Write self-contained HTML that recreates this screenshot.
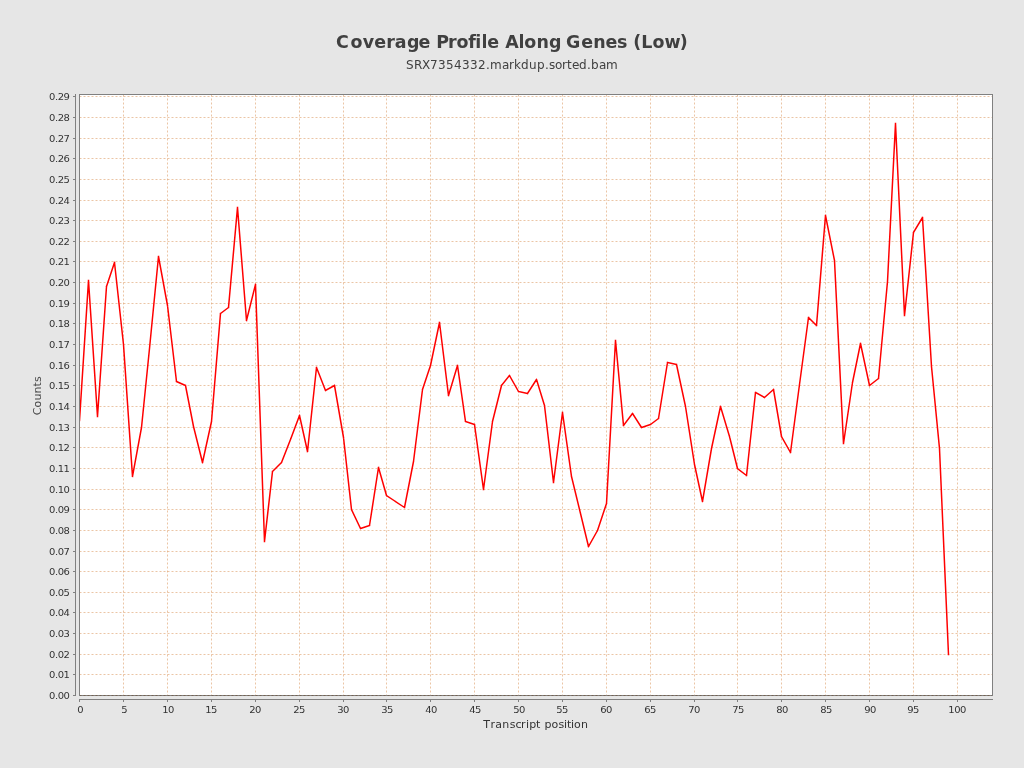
<!DOCTYPE html>
<html lang="en"><head><meta charset="utf-8"><title>Coverage Profile Along Genes (Low)</title>
<style>html,body{margin:0;padding:0;background:#e6e6e6;overflow:hidden}svg{display:block}text{font-family:"DejaVu Sans","Liberation Sans",sans-serif}.tk{font-size:10px;fill:#333}.al{font-size:11px;fill:#333}.t1{font-size:18px;font-weight:bold;fill:#404040}.t2{font-size:12px;fill:#404040}</style></head><body>
<svg width="1024" height="768" viewBox="0 0 1024 768">
<rect x="0" y="0" width="1024" height="768" fill="#e6e6e6"/>
<text class="t1" transform="scale(0.97 1)" x="346.44 361.36 373.96 385.85 398.29 407.09 419.49 431.52 444.45 449.66 461.8 470.64 482.61 489.84 496.34 502.24 515.74 520.9 534.63 540.54 553.04 565.88 578.37 583.55 599.15 611.64 624.3 636.01 647.68 652.88 661.11 672.6 685.15 700.82" y="48">Coverage Profile Along Genes (Low)</text>
<text class="t2" x="406 414 422 430 438 446 454 462 470 478 486 490 502 509 514 521 529 537 545 549 555 562 567 572 579 587 591 599 606" y="69">SRX7354332.markdup.sorted.bam</text>
<rect x="79" y="94" width="914" height="602" fill="#fff"/>
<path d="M123.5 94.5V695.5M167.5 94.5V695.5M211.5 94.5V695.5M255.5 94.5V695.5M299.5 94.5V695.5M343.5 94.5V695.5M386.5 94.5V695.5M430.5 94.5V695.5M474.5 94.5V695.5M518.5 94.5V695.5M562.5 94.5V695.5M606.5 94.5V695.5M650.5 94.5V695.5M694.5 94.5V695.5M737.5 94.5V695.5M781.5 94.5V695.5M825.5 94.5V695.5M869.5 94.5V695.5M913.5 94.5V695.5M957.5 94.5V695.5" fill="none" stroke="#d68b4a" stroke-width="0.5" stroke-dasharray="2 2"/>
<path d="M79.5 674.5H992.5M79.5 654.5H992.5M79.5 633.5H992.5M79.5 612.5H992.5M79.5 592.5H992.5M79.5 571.5H992.5M79.5 551.5H992.5M79.5 530.5H992.5M79.5 509.5H992.5M79.5 489.5H992.5M79.5 468.5H992.5M79.5 447.5H992.5M79.5 427.5H992.5M79.5 406.5H992.5M79.5 385.5H992.5M79.5 365.5H992.5M79.5 344.5H992.5M79.5 323.5H992.5M79.5 303.5H992.5M79.5 282.5H992.5M79.5 261.5H992.5M79.5 241.5H992.5M79.5 220.5H992.5M79.5 200.5H992.5M79.5 179.5H992.5M79.5 158.5H992.5M79.5 138.5H992.5M79.5 117.5H992.5M79.5 96.5H992.5" fill="none" stroke="#d68b4a" stroke-width="0.5" stroke-dasharray="2 2"/>
<clipPath id="c"><rect x="79.5" y="94.5" width="913" height="601"/></clipPath>
<path clip-path="url(#c)" d="M79.5 420.5L88.5 280.5M88.5 280.5L97.5 416.5M97.5 416.5L106.5 286.5M106.5 286.5L114.5 262.5M114.5 262.5L123.5 344.5M123.5 344.5L132.5 476.5M132.5 476.5L141.5 427.5M141.5 427.5L149.5 348.5M149.5 348.5L158.5 256.5M158.5 256.5L167.5 305.5M167.5 305.5L176.5 381.5M176.5 381.5L185.5 385.5M185.5 385.5L193.5 426.5M193.5 426.5L202.5 462.5M202.5 462.5L211.5 421.5M211.5 421.5L220.5 313.5M220.5 313.5L228.5 307.5M228.5 307.5L237.5 207.5M237.5 207.5L246.5 320.5M246.5 320.5L255.5 284.5M255.5 284.5L264.5 541.5M264.5 541.5L272.5 471.5M272.5 471.5L281.5 462.5M281.5 462.5L290.5 439.5M290.5 439.5L299.5 415.5M299.5 415.5L307.5 451.5M307.5 451.5L316.5 367.5M316.5 367.5L325.5 390.5M325.5 390.5L334.5 385.5M334.5 385.5L343.5 437.5M343.5 437.5L351.5 509.5M351.5 509.5L360.5 528.5M360.5 528.5L369.5 525.5M369.5 525.5L378.5 467.5M378.5 467.5L386.5 495.5M386.5 495.5L395.5 501.5M395.5 501.5L404.5 507.5M404.5 507.5L413.5 461.5M413.5 461.5L422.5 389.5M422.5 389.5L430.5 365.5M430.5 365.5L439.5 322.5M439.5 322.5L448.5 395.5M448.5 395.5L457.5 365.5M457.5 365.5L465.5 421.5M465.5 421.5L474.5 424.5M474.5 424.5L483.5 489.5M483.5 489.5L492.5 421.5M492.5 421.5L501.5 385.5M501.5 385.5L509.5 375.5M509.5 375.5L518.5 391.5M518.5 391.5L527.5 393.5M527.5 393.5L536.5 379.5M536.5 379.5L544.5 405.5M544.5 405.5L553.5 482.5M553.5 482.5L562.5 412.5M562.5 412.5L571.5 476.5M571.5 476.5L580.5 513.5M580.5 513.5L588.5 546.5M588.5 546.5L597.5 530.5M597.5 530.5L606.5 503.5M606.5 503.5L615.5 340.5M615.5 340.5L623.5 425.5M623.5 425.5L632.5 413.5M632.5 413.5L641.5 427.5M641.5 427.5L650.5 424.5M650.5 424.5L658.5 418.5M658.5 418.5L667.5 362.5M667.5 362.5L676.5 364.5M676.5 364.5L685.5 406.5M685.5 406.5L694.5 464.5M694.5 464.5L702.5 501.5M702.5 501.5L711.5 448.5M711.5 448.5L720.5 406.5M720.5 406.5L729.5 436.5M729.5 436.5L737.5 468.5M737.5 468.5L746.5 475.5M746.5 475.5L755.5 392.5M755.5 392.5L764.5 397.5M764.5 397.5L773.5 389.5M773.5 389.5L781.5 436.5M781.5 436.5L790.5 452.5M790.5 452.5L799.5 384.5M799.5 384.5L808.5 317.5M808.5 317.5L816.5 325.5M816.5 325.5L825.5 215.5M825.5 215.5L834.5 260.5M834.5 260.5L843.5 443.5M843.5 443.5L852.5 382.5M852.5 382.5L860.5 343.5M860.5 343.5L869.5 385.5M869.5 385.5L878.5 378.5M878.5 378.5L887.5 281.5M887.5 281.5L895.5 123.5M895.5 123.5L904.5 315.5M904.5 315.5L913.5 232.5M913.5 232.5L922.5 217.5M922.5 217.5L931.5 366.5M931.5 366.5L939.5 448.5M939.5 448.5L948.5 654.5" fill="none" stroke="#ff0000" stroke-width="1.5" stroke-linejoin="miter" stroke-miterlimit="10" stroke-linecap="square"/>
<rect x="79.5" y="94.5" width="913" height="601" fill="none" stroke="#808080" stroke-width="1"/>
<path d="M79.5 695.5H992" fill="none" stroke="#756252" stroke-width="1" stroke-opacity="1" stroke-dasharray="2 2"/>
<path d="M79.5 95V696" fill="none" stroke="#808080" stroke-width="1"/>
<path d="M75.5 94V696M79 699.5H993" fill="none" stroke="#808080" stroke-width="1"/>
<path d="M73 695.5H75M73 674.5H75M73 654.5H75M73 633.5H75M73 612.5H75M73 592.5H75M73 571.5H75M73 551.5H75M73 530.5H75M73 509.5H75M73 489.5H75M73 468.5H75M73 447.5H75M73 427.5H75M73 406.5H75M73 385.5H75M73 365.5H75M73 344.5H75M73 323.5H75M73 303.5H75M73 282.5H75M73 261.5H75M73 241.5H75M73 220.5H75M73 200.5H75M73 179.5H75M73 158.5H75M73 138.5H75M73 117.5H75M73 96.5H75M79.5 700V702M123.5 700V702M167.5 700V702M211.5 700V702M255.5 700V702M299.5 700V702M343.5 700V702M386.5 700V702M430.5 700V702M474.5 700V702M518.5 700V702M562.5 700V702M606.5 700V702M650.5 700V702M694.5 700V702M737.5 700V702M781.5 700V702M825.5 700V702M869.5 700V702M913.5 700V702M957.5 700V702" fill="none" stroke="#808080" stroke-width="1"/>
<text class="tk" transform="translate(48.95 699) scale(1 0.95)" textLength="21" lengthAdjust="spacing">0.00</text>
<text class="tk" transform="translate(48.95 678) scale(1 0.95)" textLength="21" lengthAdjust="spacing">0.01</text>
<text class="tk" transform="translate(48.95 658) scale(1 0.95)" textLength="21" lengthAdjust="spacing">0.02</text>
<text class="tk" transform="translate(48.95 637) scale(1 0.95)" textLength="21" lengthAdjust="spacing">0.03</text>
<text class="tk" transform="translate(48.95 616) scale(1 0.95)" textLength="21" lengthAdjust="spacing">0.04</text>
<text class="tk" transform="translate(48.95 596) scale(1 0.95)" textLength="21" lengthAdjust="spacing">0.05</text>
<text class="tk" transform="translate(48.95 575) scale(1 0.95)" textLength="21" lengthAdjust="spacing">0.06</text>
<text class="tk" transform="translate(48.95 555) scale(1 0.95)" textLength="21" lengthAdjust="spacing">0.07</text>
<text class="tk" transform="translate(48.95 534) scale(1 0.95)" textLength="21" lengthAdjust="spacing">0.08</text>
<text class="tk" transform="translate(48.95 513) scale(1 0.95)" textLength="21" lengthAdjust="spacing">0.09</text>
<text class="tk" transform="translate(48.95 493) scale(1 0.95)" textLength="21" lengthAdjust="spacing">0.10</text>
<text class="tk" transform="translate(48.95 472) scale(1 0.95)" textLength="21" lengthAdjust="spacing">0.11</text>
<text class="tk" transform="translate(48.95 451) scale(1 0.95)" textLength="21" lengthAdjust="spacing">0.12</text>
<text class="tk" transform="translate(48.95 431) scale(1 0.95)" textLength="21" lengthAdjust="spacing">0.13</text>
<text class="tk" transform="translate(48.95 410) scale(1 0.95)" textLength="21" lengthAdjust="spacing">0.14</text>
<text class="tk" transform="translate(48.95 389) scale(1 0.95)" textLength="21" lengthAdjust="spacing">0.15</text>
<text class="tk" transform="translate(48.95 369) scale(1 0.95)" textLength="21" lengthAdjust="spacing">0.16</text>
<text class="tk" transform="translate(48.95 348) scale(1 0.95)" textLength="21" lengthAdjust="spacing">0.17</text>
<text class="tk" transform="translate(48.95 327) scale(1 0.95)" textLength="21" lengthAdjust="spacing">0.18</text>
<text class="tk" transform="translate(48.95 307) scale(1 0.95)" textLength="21" lengthAdjust="spacing">0.19</text>
<text class="tk" transform="translate(48.95 286) scale(1 0.95)" textLength="21" lengthAdjust="spacing">0.20</text>
<text class="tk" transform="translate(48.95 265) scale(1 0.95)" textLength="21" lengthAdjust="spacing">0.21</text>
<text class="tk" transform="translate(48.95 245) scale(1 0.95)" textLength="21" lengthAdjust="spacing">0.22</text>
<text class="tk" transform="translate(48.95 224) scale(1 0.95)" textLength="21" lengthAdjust="spacing">0.23</text>
<text class="tk" transform="translate(48.95 204) scale(1 0.95)" textLength="21" lengthAdjust="spacing">0.24</text>
<text class="tk" transform="translate(48.95 183) scale(1 0.95)" textLength="21" lengthAdjust="spacing">0.25</text>
<text class="tk" transform="translate(48.95 162) scale(1 0.95)" textLength="21" lengthAdjust="spacing">0.26</text>
<text class="tk" transform="translate(48.95 142) scale(1 0.95)" textLength="21" lengthAdjust="spacing">0.27</text>
<text class="tk" transform="translate(48.95 121) scale(1 0.95)" textLength="21" lengthAdjust="spacing">0.28</text>
<text class="tk" transform="translate(48.95 100) scale(1 0.95)" textLength="21" lengthAdjust="spacing">0.29</text>
<text class="tk" transform="translate(77.35 713) scale(1 0.95)" textLength="6" lengthAdjust="spacing">0</text>
<text class="tk" transform="translate(121.35 713) scale(1 0.95)" textLength="6" lengthAdjust="spacing">5</text>
<text class="tk" transform="translate(162.35 713) scale(1 0.95)" textLength="12" lengthAdjust="spacing">10</text>
<text class="tk" transform="translate(205.35 713) scale(1 0.95)" textLength="12" lengthAdjust="spacing">15</text>
<text class="tk" transform="translate(249.35 713) scale(1 0.95)" textLength="12" lengthAdjust="spacing">20</text>
<text class="tk" transform="translate(293.35 713) scale(1 0.95)" textLength="12" lengthAdjust="spacing">25</text>
<text class="tk" transform="translate(337.35 713) scale(1 0.95)" textLength="12" lengthAdjust="spacing">30</text>
<text class="tk" transform="translate(381.35 713) scale(1 0.95)" textLength="12" lengthAdjust="spacing">35</text>
<text class="tk" transform="translate(425.35 713) scale(1 0.95)" textLength="12" lengthAdjust="spacing">40</text>
<text class="tk" transform="translate(469.35 713) scale(1 0.95)" textLength="12" lengthAdjust="spacing">45</text>
<text class="tk" transform="translate(513.35 713) scale(1 0.95)" textLength="12" lengthAdjust="spacing">50</text>
<text class="tk" transform="translate(556.35 713) scale(1 0.95)" textLength="12" lengthAdjust="spacing">55</text>
<text class="tk" transform="translate(600.35 713) scale(1 0.95)" textLength="12" lengthAdjust="spacing">60</text>
<text class="tk" transform="translate(644.35 713) scale(1 0.95)" textLength="12" lengthAdjust="spacing">65</text>
<text class="tk" transform="translate(688.35 713) scale(1 0.95)" textLength="12" lengthAdjust="spacing">70</text>
<text class="tk" transform="translate(732.35 713) scale(1 0.95)" textLength="12" lengthAdjust="spacing">75</text>
<text class="tk" transform="translate(776.35 713) scale(1 0.95)" textLength="12" lengthAdjust="spacing">80</text>
<text class="tk" transform="translate(820.35 713) scale(1 0.95)" textLength="12" lengthAdjust="spacing">85</text>
<text class="tk" transform="translate(864.35 713) scale(1 0.95)" textLength="12" lengthAdjust="spacing">90</text>
<text class="tk" transform="translate(907.35 713) scale(1 0.95)" textLength="12" lengthAdjust="spacing">95</text>
<text class="tk" transform="translate(948.35 713) scale(1 0.95)" textLength="18" lengthAdjust="spacing">100</text>
<text class="al" x="483.2 490.5 495.2 502.2 509.8 515.5 520.9 525.9 529.2 535.9 540.5 544.4 551.4 558.4 564.1 567.1 571.1 574.1 581.1" y="728">Transcript position</text>
<text class="al" transform="translate(41.3 415.2) rotate(-90)" style="letter-spacing:0.1px;fill:#484848">Counts</text>
</svg></body></html>
